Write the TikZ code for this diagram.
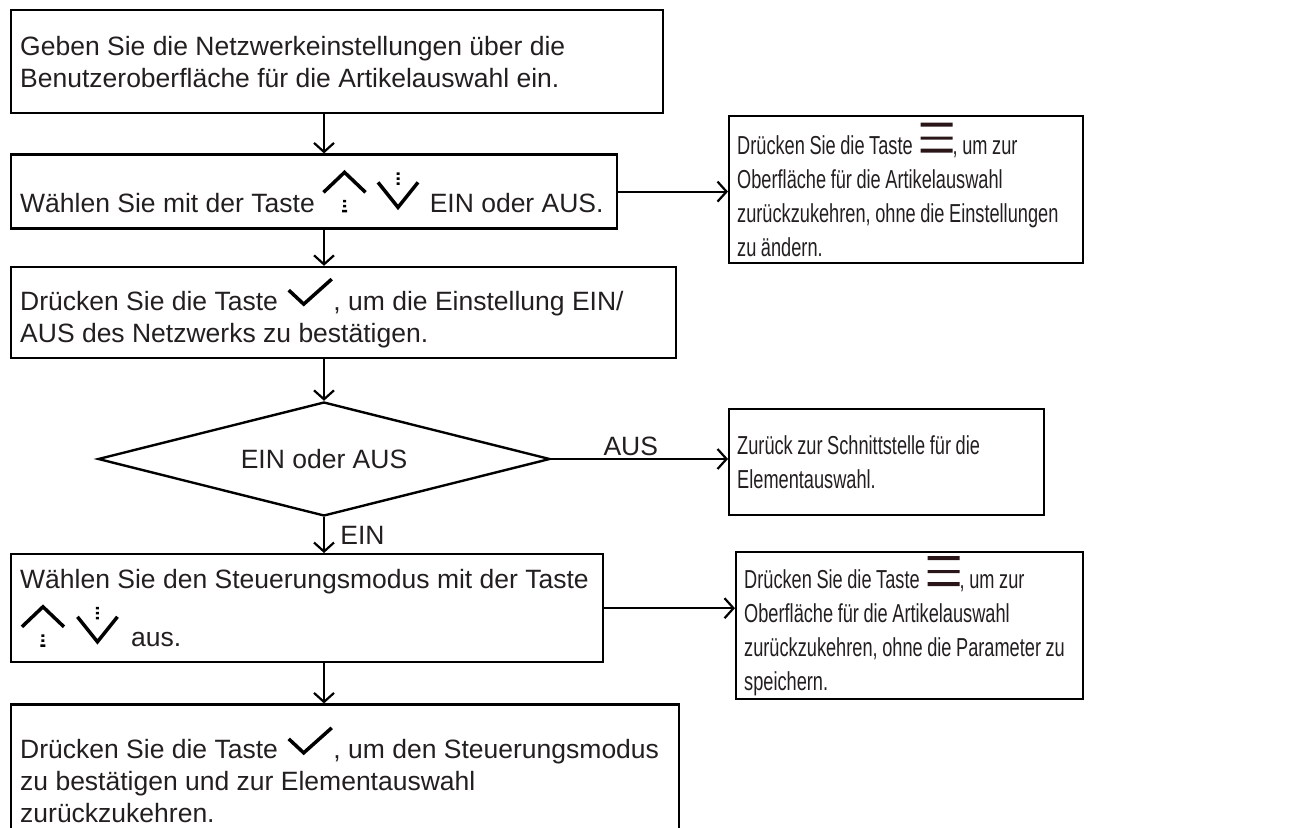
\documentclass[tikz,border=0pt]{standalone}
\usepackage{fontspec}
\setmainfont{Liberation Sans}
\newfontfamily\narrowfont{Liberation Sans}[FakeStretch=0.7,WordSpace=0.9]
\usepackage{xcolor}
\usepackage{tikz}
\usetikzlibrary{positioning,arrows.meta,shapes.geometric}

\definecolor{inktext}{HTML}{231F20}
\definecolor{menuink}{HTML}{2A1618}

% key icons, set inline with the text
\newcommand{\upkey}{\tikz[baseline=0pt]{%
  \draw[black,line width=3.5pt] (0pt,20pt) -- (21pt,40pt) -- (42pt,20pt);
  \fill[black] (19.5pt,10pt) rectangle (22.5pt,12.5pt)
               (19.5pt,5pt) rectangle (22.5pt,7.5pt)
               (18.5pt,0pt) rectangle (23.5pt,2.5pt);}}
\newcommand{\downkey}{\tikz[baseline=0pt]{%
  \draw[black,line width=3.5pt] (0pt,30pt) -- (20pt,5pt) -- (40pt,30pt);
  \fill[black] (18.5pt,37.5pt) rectangle (21.5pt,40pt)
               (18.5pt,32.5pt) rectangle (21.5pt,35pt)
               (18.5pt,27.5pt) rectangle (21.5pt,30pt);}}
\newcommand{\checkkey}{\tikz[baseline=0pt]{%
  \draw[black,line width=3.5pt] (0pt,20pt) -- (15pt,6pt) -- (43pt,31pt);}}
\newcommand{\menukey}{\tikz[baseline=0pt]{%
  \fill[menuink] (0pt,2pt) rectangle (32pt,6pt)
                 (0pt,15pt) rectangle (32pt,18pt)
                 (0pt,28pt) rectangle (32pt,32pt);}}

\begin{document}
\begin{tikzpicture}[x=1pt,y=1pt,
  stepbox/.style={draw,line width=2.4pt,rectangle,align=flush left,anchor=north west,
    inner xsep=9pt,inner ysep=4pt,text=inktext,font=\fontsize{26.5}{32}\selectfont},
  notebox/.style={stepbox,inner xsep=8pt,inner ysep=2pt,font=\narrowfont\fontsize{26}{34}\selectfont},
  choice/.style={draw,diamond,aspect=4,line width=2.4pt,inner sep=0pt,
    minimum width=452pt,minimum height=114pt,text=inktext,font=\fontsize{26.5}{32}\selectfont},
  flow/.style={line width=2.2pt,-{Straight Barb[length=9pt,width=20pt]}},
  tag/.style={text=inktext,font=\fontsize{26.5}{32}\selectfont}]
  \useasboundingbox (0,0) rectangle (1290,-827);

  % left column, top to bottom
  \node[stepbox,text width=634pt,minimum height=103pt] (b1) at (10,-9)
    {Geben Sie die Netzwerkeinstellungen über die\\Benutzeroberfläche für die Artikelauswahl ein.};
  \node[stepbox,text width=588pt,minimum height=74pt,below=39pt of b1.south west,anchor=north west] (b2)
    {\mbox{Wählen Sie mit der Taste\hspace{7pt}\upkey\hspace{9pt}\downkey\hspace{10pt}EIN oder AUS.}};
  \node[stepbox,text width=647pt,minimum height=91pt,below=36pt of b2.south west,anchor=north west] (b3)
    {Drücken Sie die Taste\hspace{9pt}\checkkey, um die Einstellung EIN/\\AUS des Netzwerks zu bestätigen.};
  \node[choice] (dec) at (324,-459) {EIN oder AUS};
  \node[stepbox,text width=574pt,minimum height=108pt] (b4) at (10,-553)
    {Wählen Sie den Steuerungsmodus mit der Taste\\[10pt]\upkey\hspace{10pt}\downkey\hspace{12pt}aus.};
  \node[stepbox,text width=650pt,minimum height=140pt,below=40pt of b4.south west,anchor=north west] (b5)
    {Drücken Sie die Taste\hspace{9pt}\checkkey, um den Steuerungsmodus\\zu bestätigen und zur Elementauswahl\\zurückzukehren.};

  % right column
  \node[notebox,text width=338pt,minimum height=147pt] (r1) at (728,-115)
    {Drücken Sie die Taste\hspace{8pt}\menukey, um zur\\Oberfläche für die Artikelauswahl\\zurückzukehren, ohne die Einstellungen\\zu ändern.};
  \node[notebox,text width=299pt,minimum height=106pt] (r2) at (728,-408)
    {Zurück zur Schnittstelle für die\\Elementauswahl.};
  \node[notebox,text width=331pt,minimum height=147pt] (r3) at (735,-551)
    {Drücken Sie die Taste\hspace{8pt}\menukey, um zur\\Oberfläche für die Artikelauswahl\\zurückzukehren, ohne die Parameter zu\\speichern.};

  \draw[flow] (b1.south -| dec.north) -- (b2.north -| dec.north);
  \draw[flow] (b2.south -| dec.north) -- (b3.north -| dec.north);
  \draw[flow] (b3.south -| dec.north) -- (dec.north);
  \draw[flow] (dec.south) -- node[tag,right,xshift=12pt] {EIN} (b4.north -| dec.south);
  \draw[flow] (b4.south -| dec.north) -- (b5.north -| dec.north);
  \draw[flow] (b2.east) -- (b2.east -| r1.west);
  \draw[flow] (dec.east) -- node[tag,above,pos=0.45,inner sep=2pt] {AUS} (dec.east -| r2.west);
  \draw[flow] (b4.east) -- (b4.east -| r3.west);
\end{tikzpicture}
\end{document}
